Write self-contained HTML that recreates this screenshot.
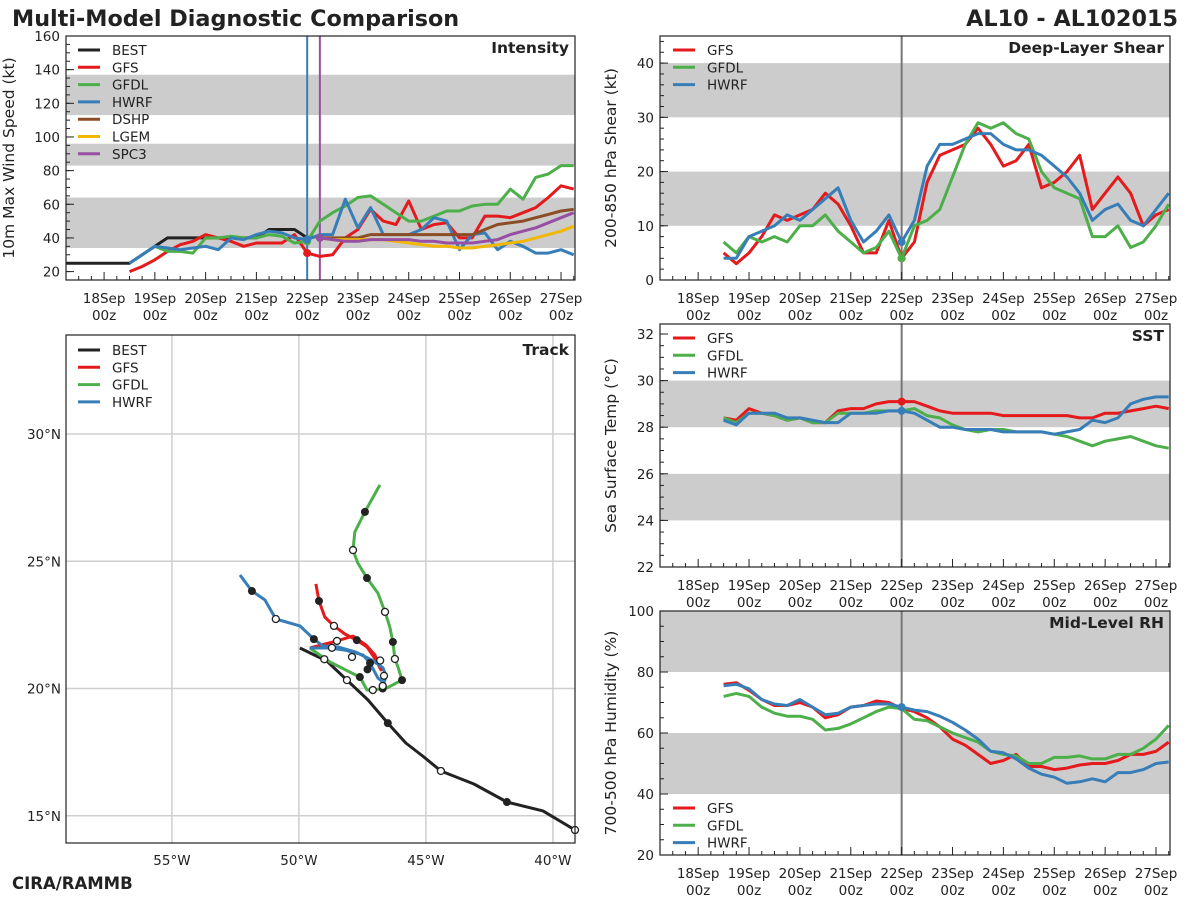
<!DOCTYPE html>
<html><head><meta charset="utf-8"><style>
body{margin:0;background:#fff;}
svg{display:block;font-family:"DejaVu Sans","Liberation Sans",sans-serif;}
</style></head><body>
<svg id="c" width="1200" height="900" xmlns="http://www.w3.org/2000/svg">
<text x="12" y="26" font-size="22.3" font-weight="bold" fill="#222">Multi-Model Diagnostic Comparison</text>
<text x="1178" y="26" font-size="22.3" font-weight="bold" fill="#222" text-anchor="end">AL10 - AL102015</text>
<text x="12" y="889" font-size="16.5" font-weight="bold" fill="#222">CIRA/RAMMB</text>
</svg>
<script>
const dayLabels=["18Sep","19Sep","20Sep","21Sep","22Sep","23Sep","24Sep","25Sep","26Sep","27Sep"];
const hours=[12,18,24,30,36,42,48,54,60,66,72,78,84,90,96,102,108,114,120,126,132,138,144,150,156,162,168,174,180,186,192,198,204,210,216,222];
const bestH=[-18,12,30,72,78,90,96,102];
const bestV=[25,25,40,40,45,45,40,41];
const intGFS=[20,23,27,32,36,38,42,40,38,35,37,37,37,42,31,29,30,40,45,57,50,48,62,45,48,49,40,40,53,53,52,55,58,64,71,69];
const intGFDL=[25,30,35,32,32,31,40,40,41,40,40,42,41,37,38,50,55,59,64,65,60,55,50,50,53,56,56,59,60,60,69,63,76,78,83,83];
const intHWRF=[25,30,35,34,33,34,35,33,40,39,42,44,43,40,39,42,42,63,46,58,42,42,42,45,52,50,33,42,43,33,38,35,31,31,33,30];
const statH=[102,108,114,120,126,132,138,144,150,156,162,168,174,180,186,192,198,204,210,216,222];
const intDSHP=[40,40,40,40,42,42,42,42,42,42,42,42,42,45,48,49,50,52,54,56,57];
const intLGEM=[40,39,39,39,39,39,38,37,36,35,35,34,34,35,36,37,38,40,42,44,47];
const intSPC3=[40,39,38,38,39,39,39,39,38,38,37,37,37,38,39,42,44,46,49,52,55];
const shGFS=[5,3,5,8,12,11,12,13,16,14,10,5,5,11,4,7,18,23,24,25,28,25,21,22,25,17,18,20,23,13,16,19,16,10,12,13];
const shGFDL=[7,5,8,7,8,7,10,10,12,9,7,5,6,9,4,10,11,13,19,25,29,28,29,27,26,20,17,16,15,8,8,10,6,7,10,14];
const shHWRF=[4,4,8,9,10,12,11,13,15,17,11,7,9,12,7,11,21,25,25,26,27,27,25,24,24,23,21,19,16,11,13,14,11,10,13,16];
const sstGFS=[28.4,28.3,28.8,28.6,28.5,28.3,28.4,28.2,28.2,28.7,28.8,28.8,29.0,29.1,29.1,29.1,28.9,28.7,28.6,28.6,28.6,28.6,28.5,28.5,28.5,28.5,28.5,28.5,28.4,28.4,28.6,28.6,28.7,28.8,28.9,28.8];
const sstGFDL=[28.4,28.2,28.6,28.6,28.5,28.3,28.4,28.2,28.2,28.6,28.6,28.6,28.7,28.7,28.7,28.8,28.5,28.4,28.1,27.9,27.8,27.9,27.9,27.8,27.8,27.8,27.7,27.6,27.4,27.2,27.4,27.5,27.6,27.4,27.2,27.1];
const sstHWRF=[28.3,28.1,28.6,28.6,28.6,28.4,28.4,28.3,28.2,28.2,28.6,28.6,28.6,28.7,28.7,28.6,28.3,28.0,28.0,27.9,27.9,27.9,27.8,27.8,27.8,27.8,27.7,27.8,27.9,28.3,28.2,28.4,29.0,29.2,29.3,29.3];
const rhGFS=[76,76.5,74,71,69,69,70,68.5,65,66,68.5,69,70.5,70,68,67,65,62,58,56,53,50,51,53,49,49,48,48.5,49.5,50,50,51,53,53,54,57];
const rhGFDL=[72,73,72,68.5,66.5,65.5,65.5,64.5,61,61.5,63,65,67,68.5,68,64.5,64,62,60,58.5,57,54,53,52.5,50,50,52,52,52.5,51.5,51.5,53,53,55,58,62.5];
const rhHWRF=[75.5,76,74.5,71,69.5,69,71,68.5,66,66.5,68.5,69,69.5,69.5,68.5,67.5,67,65.5,63.5,61,58,54,53.5,51.5,48.5,46.5,45.5,43.5,44,45,44,47,47,48,50,50.5];
const bestLon=[-49.96,-48.90,-48.11,-47.28,-46.50,-45.79,-45.08,-44.41,-43.11,-41.81,-40.39,-39.13];
const bestLat=[21.59,21.08,20.33,19.55,18.64,17.86,17.31,16.76,16.25,15.54,15.19,14.44];
const gfsLon=[-49.57,-48.50,-47.87,-47.36,-47.01,-46.77,-46.97,-47.32,-47.72,-48.19,-48.62,-48.98,-49.21,-49.33];
const gfsLat=[21.59,21.87,22.06,21.71,21.32,20.73,21.12,21.63,21.90,22.14,22.46,22.81,23.44,24.11];
const gfdlLon=[-49.57,-48.78,-47.60,-47.32,-47.09,-46.54,-45.94,-46.10,-46.22,-46.30,-46.42,-46.61,-46.89,-47.32,-47.68,-47.87,-47.80,-47.40,-46.81];
const gfdlLat=[21.59,21.04,20.45,19.94,19.94,20.02,20.33,20.84,21.16,21.83,22.42,23.01,23.75,24.34,24.93,25.44,26.15,26.94,28.00];
const hwrfLon=[-49.57,-48.78,-48.19,-47.48,-47.20,-46.89,-46.65,-46.57,-46.69,-47.13,-47.76,-48.46,-49.06,-49.41,-49.96,-50.91,-51.34,-51.85,-52.32];
const hwrfLat=[21.59,21.59,21.51,21.32,21.00,20.41,20.22,20.49,20.81,21.12,21.43,21.63,21.67,21.94,22.46,22.73,23.48,23.83,24.46];
const filledLon=[-51.85,-49.21,-49.41,-47.40,-47.32,-46.30,-45.94,-47.60,-47.72,-47.20,-47.30,-46.50,-41.81,-46.70];
const filledLat=[23.83,23.44,21.94,26.94,24.34,21.83,20.33,20.45,21.90,21.00,20.75,18.64,15.54,20.00];
const openLon=[-50.91,-47.87,-46.61,-46.22,-48.62,-48.50,-47.91,-48.70,-49.00,-48.11,-47.09,-46.70,-46.65,-44.41,-39.13,-46.80];
const openLat=[22.73,25.44,23.01,21.16,22.46,21.87,21.24,21.60,21.15,20.33,19.94,20.10,20.50,16.76,14.44,21.10];

const C={BEST:"#222",GFS:"#e41a1c",GFDL:"#4daf4a",HWRF:"#377eb8",DSHP:"#8c4d25",LGEM:"#f2b701",SPC3:"#984ea3"};
const svg=document.getElementById('c');
const NS="http://www.w3.org/2000/svg";
function mk(tag,attrs,parent){const e=document.createElementNS(NS,tag);for(const k in attrs)e.setAttribute(k,attrs[k]);(parent||svg).appendChild(e);return e;}

function panel(name,box,ymin,ymax,bands,yticks,ystep,minorStep,ylabel,title,vline2){
  const g=mk('g',{});
  
  
  const hmin=-18,hmax=222.6;
  const X=h=>box.x+(h-hmin)/(hmax-hmin)*box.w;
  const Y=v=>box.y+box.h-(v-ymin)/(ymax-ymin)*box.h;
  bands.forEach(b=>{const r=mk('rect',{x:box.x,y:Y(Math.min(b[1],ymax)),width:box.w,height:Y(b[0])-Y(Math.min(b[1],ymax)),fill:"#cccccc"},g);
    });
  if(!vline2){const l=mk('line',{x1:X(96),x2:X(96),y1:box.y,y2:box.y+box.h,stroke:"#777","stroke-width":2},g);
    }
  for(let h=-12;h<=222;h+=6){const major=(h%24===0);
    mk('line',{x1:X(h),x2:X(h),y1:box.y+box.h,y2:box.y+box.h-(major?8:4),stroke:"#222","stroke-width":1},g);}
  dayLabels.forEach((d,i)=>{const x=X(i*24);
    const t=mk('text',{x:x,y:box.y+box.h+23,"font-size":13.5,"text-anchor":"middle",fill:"#222"},g);t.textContent=d;
    
    const t2=mk('text',{x:x,y:box.y+box.h+40,"font-size":13.5,"text-anchor":"middle",fill:"#222"},g);t2.textContent="00z";
    });
  for(let v=ymin;v<=ymax+1e-6;v+=minorStep){const y=Y(v);
    mk('line',{x1:box.x,x2:box.x+4,y1:y,y2:y,stroke:"#222"},g);}
  yticks.forEach(v=>{const y=Y(v);mk('line',{x1:box.x,x2:box.x+8,y1:y,y2:y,stroke:"#222"},g);
    const t=mk('text',{x:box.x-6,y:y+5,"font-size":13.5,"text-anchor":"end",fill:"#222"},g);t.textContent=v;
    });
  const yl=mk('text',{x:0,y:0,"font-size":15.5,"text-anchor":"middle",fill:"#222",transform:`translate(${box.x-ystep},${box.y+box.h/2}) rotate(-90)`},g);
  yl.textContent=ylabel;
  const tt=mk('text',{x:box.x+box.w-6,y:box.y+17,"font-size":15.5,"font-weight":"bold","text-anchor":"end",fill:"#222"},g);
  tt.textContent=title;
  return {g,X,Y,box};
}
function series(p,hs,vs,color,name){
  const pts=hs.map((h,i)=>p.X(h).toFixed(1)+","+p.Y(vs[i]).toFixed(1)).join(" ");
  const l=mk('polyline',{points:pts,fill:"none",stroke:color,"stroke-width":3,"stroke-linejoin":"round"},p.g);
  
}
function frame(p){mk('rect',{x:p.box.x,y:p.box.y,width:p.box.w,height:p.box.h,fill:"none",stroke:"#222","stroke-width":1.2},p.g);}
function legend(p,x,y,names,gap){
  names.forEach((n,i)=>{const yy=y+i*gap;
    const l=mk('line',{x1:x,x2:x+22,y1:yy,y2:yy,stroke:C[n],"stroke-width":3},p.g);
    
    const t=mk('text',{x:x+34,y:yy+5,"font-size":13.5,fill:"#222"},p.g);t.textContent=n;
    });
}
function dot(p,h,v,color){const c=mk('circle',{cx:p.X(h),cy:p.Y(v),r:4,fill:color},p.g);
  }

const pI=panel('intensity',{x:66,y:36,w:509,h:244},15,160,[[34,64],[83,96],[113,137]],[20,40,60,80,100,120,140,160],52,5,"10m Max Wind Speed (kt)","Intensity",true);
let vl=mk('line',{x1:pI.X(96),x2:pI.X(96),y1:36,y2:280,stroke:C.HWRF,"stroke-width":2},pI.g);

vl=mk('line',{x1:pI.X(102),x2:pI.X(102),y1:36,y2:280,stroke:C.SPC3,"stroke-width":2},pI.g);

series(pI,bestH,bestV,C.BEST,'best-intensity-line');
series(pI,hours,intGFS,C.GFS,'gfs-intensity-line');
series(pI,hours,intGFDL,C.GFDL,'gfdl-intensity-line');
series(pI,hours,intHWRF,C.HWRF,'hwrf-intensity-line');
series(pI,statH,intDSHP,C.DSHP,'dshp-intensity-line');
series(pI,statH,intLGEM,C.LGEM,'lgem-intensity-line');
series(pI,statH,intSPC3,C.SPC3,'spc3-intensity-line');
dot(pI,96,intGFS[14],C.GFS);dot(pI,96,intGFDL[14],C.GFDL);dot(pI,96,intHWRF[14],C.HWRF);dot(pI,102,intSPC3[0],C.SPC3);
legend(pI,78,50,["BEST","GFS","GFDL","HWRF","DSHP","LGEM","SPC3"],17.3);
frame(pI);

const pS=panel('shear',{x:660,y:36,w:510,h:244},0,45,[[10,20],[30,40]],[0,10,20,30,40],44,2,"200-850 hPa Shear (kt)","Deep-Layer Shear");
series(pS,hours,shGFS,C.GFS,'gfs-shear-line');series(pS,hours,shGFDL,C.GFDL,'gfdl-shear-line');series(pS,hours,shHWRF,C.HWRF,'hwrf-shear-line');
dot(pS,96,shGFS[14],C.GFS);dot(pS,96,shHWRF[14],C.HWRF);dot(pS,96,shGFDL[14],C.GFDL);
legend(pS,673,50,["GFS","GFDL","HWRF"],17.3);frame(pS);

const pT=panel('sst',{x:660,y:324,w:510,h:243},22,32.43,[[24,26],[28,30]],[22,24,26,28,30,32],44,0.5,"Sea Surface Temp (°C)","SST");
series(pT,hours,sstGFS,C.GFS,'gfs-sst-line');series(pT,hours,sstGFDL,C.GFDL,'gfdl-sst-line');series(pT,hours,sstHWRF,C.HWRF,'hwrf-sst-line');
dot(pT,96,sstHWRF[14],C.HWRF);dot(pT,96,sstGFS[14],C.GFS);
legend(pT,673,338,["GFS","GFDL","HWRF"],17.3);frame(pT);

const pR=panel('rh',{x:660,y:611,w:510,h:244},20,100,[[40,60],[80,100]],[20,40,60,80,100],44,5,"700-500 hPa Humidity (%)","Mid-Level RH");
series(pR,hours,rhGFS,C.GFS,'gfs-rh-line');series(pR,hours,rhGFDL,C.GFDL,'gfdl-rh-line');series(pR,hours,rhHWRF,C.HWRF,'hwrf-rh-line');
dot(pR,96,rhHWRF[14],C.HWRF);
legend(pR,673,808,["GFS","GFDL","HWRF"],17.3);frame(pR);

(function(){
  const box={x:66,y:335,w:509,h:508};
  const lonMin=-59.17,lonMax=-39.13,latMin=13.93,latMax=33.89;
  const X=lo=>box.x+(lo-lonMin)/(lonMax-lonMin)*box.w;
  const Y=la=>box.y+box.h-(la-latMin)/(latMax-latMin)*box.h;
  const g=mk('g',{});
  
  [-55,-50,-45,-40].forEach(lo=>{mk('line',{x1:X(lo),x2:X(lo),y1:box.y,y2:box.y+box.h,stroke:"#cfcfcf","stroke-width":1.5},g);
    const t=mk('text',{x:X(lo),y:box.y+box.h+22,"font-size":13.5,"text-anchor":"middle",fill:"#222"},g);t.textContent=(-lo)+"°W";
    });
  [15,20,25,30].forEach(la=>{mk('line',{x1:box.x,x2:box.x+box.w,y1:Y(la),y2:Y(la),stroke:"#cfcfcf","stroke-width":1.5},g);
    const t=mk('text',{x:box.x-5,y:Y(la)+5,"font-size":13.5,"text-anchor":"end",fill:"#222"},g);t.textContent=la+"°N";
    });
  function tr(lons,lats,color,name){const pts=lons.map((lo,i)=>X(lo).toFixed(1)+","+Y(lats[i]).toFixed(1)).join(" ");
    const l=mk('polyline',{points:pts,fill:"none",stroke:color,"stroke-width":3,"stroke-linejoin":"round"},g);
    }
  tr(bestLon,bestLat,C.BEST,'best-track');tr(gfsLon,gfsLat,C.GFS,'gfs-track');tr(gfdlLon,gfdlLat,C.GFDL,'gfdl-track');tr(hwrfLon,hwrfLat,C.HWRF,'hwrf-track');
  filledLon.forEach((lo,i)=>{const c=mk('circle',{cx:X(lo),cy:Y(filledLat[i]),r:4,fill:"#222"},g);
    });
  openLon.forEach((lo,i)=>{const c=mk('circle',{cx:X(lo),cy:Y(openLat[i]),r:3.5,fill:"#fff",stroke:"#222","stroke-width":1.3},g);
    });
  mk('rect',{x:box.x,y:box.y,width:box.w,height:box.h,fill:"none",stroke:"#222","stroke-width":1.2},g);
  const tt=mk('text',{x:box.x+box.w-6,y:box.y+20,"font-size":15.5,"font-weight":"bold","text-anchor":"end",fill:"#222"},g);
  tt.textContent="Track";
  ["BEST","GFS","GFDL","HWRF"].forEach((n,i)=>{const yy=350+i*17.3;
    const l=mk('line',{x1:78,x2:100,y1:yy,y2:yy,stroke:C[n],"stroke-width":3},g);
    
    const t=mk('text',{x:112,y:yy+5,"font-size":13.5,fill:"#222"},g);t.textContent=n;
    });
})();
</script>
</body></html>
